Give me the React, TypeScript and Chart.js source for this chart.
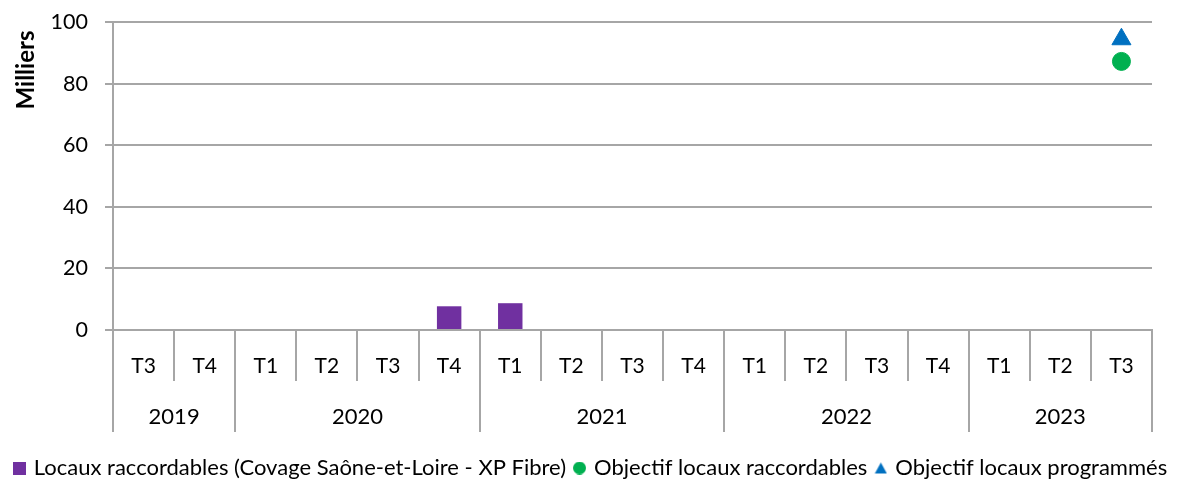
import { useEffect, useRef } from 'react';
import { Chart, registerables } from 'chart.js';

Chart.register(...registerables);

const quarterLabels = ['T3', 'T4', 'T1', 'T2', 'T3', 'T4', 'T1', 'T2', 'T3', 'T4', 'T1', 'T2', 'T3', 'T4', 'T1', 'T2', 'T3'];
const yearLabels = ['2019', '2020', '2021', '2022', '2023'];
const yearSpans = [2, 4, 4, 4, 3];

const raccordables = [null, null, null, null, null, 7.7, 8.7, null, null, null, null, null, null, null, null, null, null];
const objectifRaccordables = [null, null, null, null, null, null, null, null, null, null, null, null, null, null, null, null, 87.2];
const objectifProgrammes = [null, null, null, null, null, null, null, null, null, null, null, null, null, null, null, null, 94.4];

const seriesNames = [
  'Locaux raccordables (Covage Saône-et-Loire - XP Fibre)',
  'Objectif locaux raccordables',
  'Objectif locaux programmés',
];
const seriesColors = ['#7030A0', '#00B050', '#0070C0'];
const legendShapes = ['rect', 'circle', 'triangle'];

const FONT = 'Lato';
const GRID = '#A6A6A6';
const TEXT = '#000000';

function makeMarker(shape: string, color: string): HTMLCanvasElement {
  const c = document.createElement('canvas');
  const size = 13;
  c.width = size;
  c.height = size;
  const g = c.getContext('2d')!;
  g.fillStyle = color;
  if (shape === 'rect') {
    g.fillRect(0, 0, size, size);
  } else if (shape === 'circle') {
    g.beginPath();
    g.arc(size / 2, size / 2, size / 2, 0, Math.PI * 2);
    g.fill();
  } else {
    g.beginPath();
    g.moveTo(size / 2, 1);
    g.lineTo(size - 0.5, size - 1);
    g.lineTo(0.5, size - 1);
    g.closePath();
    g.fill();
  }
  return c;
}

const twoLevelAxis = {
  id: 'twoLevelAxis',
  afterDraw(chart: any) {
    const ctx = chart.ctx;
    const xs = chart.scales.x;
    const area = chart.chartArea;
    const n = quarterLabels.length;
    const step = (xs.right - xs.left) / n;
    const top = area.bottom;
    const midY = top + 51;
    const botY = top + 102;
    const bounds = new Set<number>();
    let acc = 0;
    bounds.add(0);
    yearSpans.forEach((s) => {
      acc += s;
      bounds.add(acc);
    });
    ctx.save();
    ctx.strokeStyle = GRID;
    ctx.lineWidth = 2;
    for (let i = 0; i <= n; i++) {
      const px = Math.round(xs.left + i * step);
      ctx.beginPath();
      ctx.moveTo(px, top);
      ctx.lineTo(px, bounds.has(i) ? botY : midY);
      ctx.stroke();
    }
    ctx.fillStyle = TEXT;
    ctx.font = `22px ${FONT}`;
    ctx.textAlign = 'center';
    ctx.textBaseline = 'middle';
    let start = 0;
    yearLabels.forEach((y, k) => {
      const cx = xs.left + (start + yearSpans[k] / 2) * step;
      ctx.fillText(y, cx, top + 87);
      start += yearSpans[k];
    });
    // axis title
    ctx.translate(26, 70);
    ctx.rotate(-Math.PI / 2);
    ctx.font = `bold 24px ${FONT}`;
    ctx.fillText('Milliers', 0, 0);
    ctx.restore();
  },
};

export default function App() {
  const ref = useRef<HTMLCanvasElement>(null);
  useEffect(() => {
    document.body.style.margin = '0';
    const markers = legendShapes.map((s, i) => makeMarker(s, seriesColors[i]));
    const chart = new Chart(ref.current!, {
      type: 'bar',
      data: {
        labels: quarterLabels,
        datasets: [
          {
            type: 'bar',
            label: seriesNames[0],
            data: raccordables,
            backgroundColor: seriesColors[0],
            borderColor: seriesColors[0],
            barPercentage: 0.4,
            categoryPercentage: 1,
          },
          {
            type: 'line',
            label: seriesNames[1],
            data: objectifRaccordables,
            showLine: false,
            pointStyle: 'circle',
            pointRadius: 9,
            pointBackgroundColor: seriesColors[1],
            pointBorderColor: seriesColors[1],
            backgroundColor: seriesColors[1],
            borderColor: seriesColors[1],
          },
          {
            type: 'line',
            label: seriesNames[2],
            data: objectifProgrammes,
            showLine: false,
            pointStyle: 'triangle',
            pointRadius: 11,
            pointBackgroundColor: seriesColors[2],
            pointBorderColor: seriesColors[2],
            backgroundColor: seriesColors[2],
            borderColor: seriesColors[2],
          },
        ] as any,
      },
      options: {
        animation: false,
        responsive: true,
        maintainAspectRatio: false,
        layout: { padding: { top: 22, right: 0, bottom: -5, left: 0 } },
        plugins: {
          tooltip: { enabled: false },
          legend: {
            position: 'bottom',
            labels: {
              usePointStyle: true,
              boxWidth: 7,
              boxHeight: 7,
              padding: 10,
              color: TEXT,
              font: { family: FONT, size: 22 },
              generateLabels: (c: any) => {
                const items = Chart.defaults.plugins.legend.labels.generateLabels(c);
                return items.map((it: any) => ({ ...it, pointStyle: markers[it.datasetIndex], lineWidth: 0 }));
              },
            },
          },
        },
        scales: {
          x: {
            grid: { display: false },
            border: { display: true, color: GRID, width: 2 },
            ticks: {
              color: TEXT,
              font: { family: FONT, size: 21 },
              padding: 16,
              maxRotation: 0,
              autoSkip: false,
            },
            afterFit: (s: any) => {
              s.height = 117;
              s.paddingTop = 0;
              s.paddingBottom = 0;
            },
          },
          y: {
            min: 0,
            max: 100,
            ticks: {
              stepSize: 20,
              color: TEXT,
              font: { family: FONT, size: 21.5 },
              padding: 17,
            },
            grid: { color: GRID, lineWidth: 2, tickLength: 8 },
            border: { display: true, color: GRID, width: 2 },
            afterFit: (s: any) => {
              s.width = 113;
              s.paddingTop = 0;
              s.paddingBottom = 0;
            },
          },
          y2: {
            position: 'right',
            display: true,
            grid: { display: false },
            ticks: { display: false },
            border: { display: false },
            afterFit: (s: any) => {
              s.width = 31;
              s.paddingTop = 0;
              s.paddingBottom = 0;
            },
          },
        },
      } as any,
      plugins: [twoLevelAxis],
    });
    return () => chart.destroy();
  }, []);
  return (
    <div style={{ width: 1183, height: 484, position: 'relative' }}>
      <canvas ref={ref} />
    </div>
  );
}
